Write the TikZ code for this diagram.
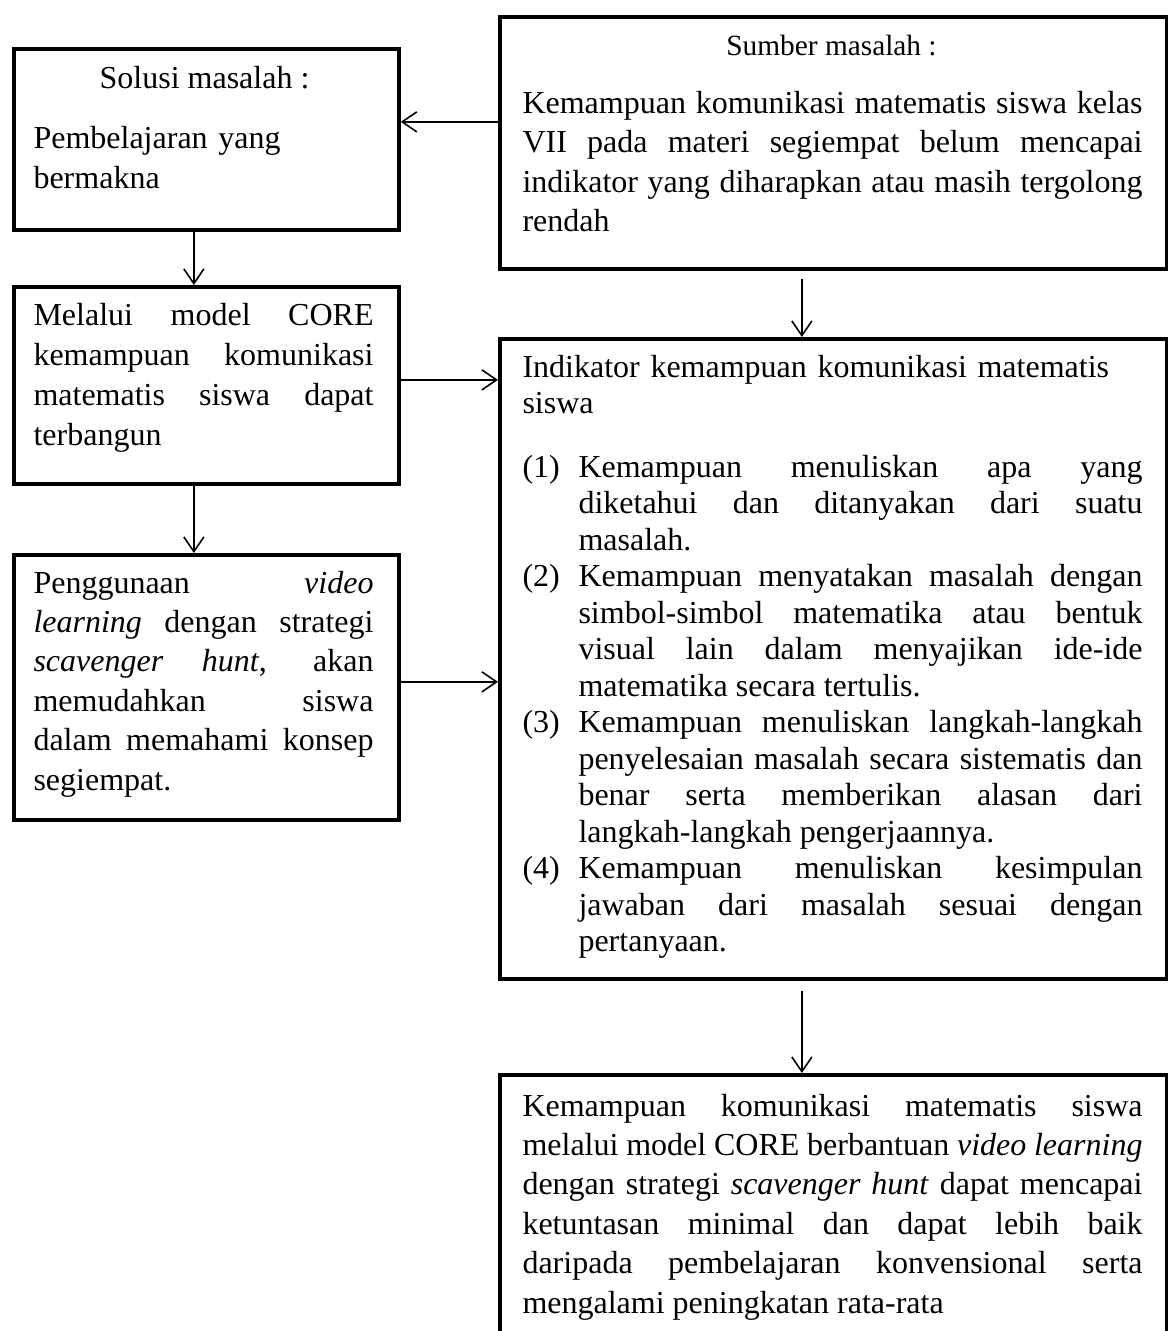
\documentclass[tikz,border=0pt]{standalone}
\usepackage{fontspec}
\setmainfont{Liberation Serif}
\usetikzlibrary{arrows.meta}
\newlength{\satuan}
\setlength{\satuan}{0.375pt}
\setlength{\parindent}{0pt}
\hyphenpenalty=10000
\exhyphenpenalty=10000
\tolerance=10000
\hbadness=10000
\newcommand{\butir}[1]{\noindent\hangindent=21pt\hangafter=1\makebox[21pt][l]{(#1)}\ignorespaces}
\tikzset{kotak/.style={draw,line width=1.4pt,inner sep=0pt,anchor=north west}}
\tikzset{judul/.style={anchor=base,inner sep=0pt}}
\tikzset{teks/.style={anchor=base west,inner sep=0pt,align=justify}}
\tikzset{kiri/.style={teks,text width=340\satuan}}
\tikzset{kanan/.style={teks,text width=620\satuan}}
\tikzset{a/.style={line width=0.6pt,-{Straight Barb[length=5.5pt,width=7.5pt]}}}

\begin{document}
\begin{tikzpicture}[x=0.375pt,y=-0.375pt,font=\fontsize{12}{14.85}\selectfont]
  \useasboundingbox (0,0) rectangle (1167,1331);
  \node[kotak,minimum width=385\satuan,minimum height=181\satuan] (solusi) at (12,47) {};
  \node[kotak,minimum width=667\satuan,minimum height=252\satuan] (sumber) at (498,15) {};
  \node[kotak,minimum width=385\satuan,minimum height=197\satuan] (melalui) at (12,285) {};
  \node[kotak,minimum width=385\satuan,minimum height=265\satuan] (penggunaan) at (12,553) {};
  \node[kotak,minimum width=667\satuan,minimum height=640\satuan] (indikator) at (498,337) {};
  \node[kotak,minimum width=667\satuan,minimum height=300\satuan] (hasil) at (498,1073) {};

  \node[judul] (solusiJ) at (204.5,88) {Solusi masalah :};
  \node[kiri,align=left,font=\fontsize{12}{15}\selectfont] (solusiT) at (33,148) {Pembelajaran yang\\bermakna};
  \node[judul,font=\fontsize{11}{13}\selectfont] (sumberJ) at (831.5,55) {Sumber masalah :};
  \node[kanan] (sumberT) at (522,113) {Kemampuan komunikasi matematis siswa kelas\linebreak VII pada materi segiempat belum mencapai\linebreak indikator yang diharapkan atau masih tergolong\linebreak rendah};
  \node[kiri,font=\fontsize{12}{15}\selectfont] (melaluiT) at (33,325) {Melalui model CORE\linebreak kemampuan komunikasi\linebreak matematis siswa dapat\linebreak terbangun};
  \node[kiri,font=\fontsize{12}{14.8}\selectfont] (penggunaanT) at (33,593) {Penggunaan \textit{video}\linebreak \textit{learning} dengan strategi\linebreak \textit{scavenger hunt}, akan\linebreak memudahkan siswa\linebreak dalam memahami konsep\linebreak segiempat.};
  \node[kanan,align=left,font=\fontsize{12}{13.7}\selectfont] (indikatorJ) at (522,377) {Indikator kemampuan komunikasi matematis\\siswa};
  \node[kanan,font=\fontsize{12}{13.7}\selectfont] (indikatorL) at (522,477) {%
    \butir{1}Kemampuan menuliskan apa yang\linebreak diketahui dan ditanyakan dari suatu\linebreak masalah.\par
    \butir{2}Kemampuan menyatakan masalah dengan\linebreak simbol-simbol matematika atau bentuk\linebreak visual lain dalam menyajikan ide-ide\linebreak matematika secara tertulis.\par
    \butir{3}Kemampuan menuliskan langkah-langkah\linebreak penyelesaian masalah secara sistematis dan\linebreak benar serta memberikan alasan dari\linebreak langkah-langkah pengerjaannya.\par
    \butir{4}Kemampuan menuliskan kesimpulan\linebreak jawaban dari masalah sesuai dengan\linebreak pertanyaan.\par};
  \node[kanan,font=\fontsize{12}{14.8}\selectfont] (hasilT) at (522,1116) {Kemampuan komunikasi matematis siswa\linebreak melalui model CORE berbantuan \textit{video learning}\linebreak dengan strategi \textit{scavenger hunt} dapat mencapai\linebreak ketuntasan minimal dan dapat lebih baik\linebreak daripada pembelajaran konvensional serta\linebreak mengalami peningkatan rata-rata};

  \draw[a] ([yshift=21\satuan]sumber.west) -- ([yshift=21\satuan]sumber.west -| solusi.east);
  \draw[a] ([xshift=-12.5\satuan]solusi.south) -- ([xshift=-12.5\satuan]melalui.north);
  \draw[a,shorten <=8\satuan] ([xshift=-31.5\satuan]sumber.south) -- ([xshift=-31.5\satuan]indikator.north);
  \draw[a] ([yshift=5.5\satuan]melalui.east) -- ([yshift=5.5\satuan]melalui.east -| indikator.west);
  \draw[a] ([xshift=-12.5\satuan]melalui.south) -- ([xshift=-12.5\satuan]penggunaan.north);
  \draw[a] ([yshift=5.5\satuan]penggunaan.east) -- ([yshift=5.5\satuan]penggunaan.east -| indikator.west);
  \draw[a,shorten <=10\satuan] ([xshift=-31.5\satuan]indikator.south) -- ([xshift=-31.5\satuan]hasil.north);
\end{tikzpicture}
\end{document}
